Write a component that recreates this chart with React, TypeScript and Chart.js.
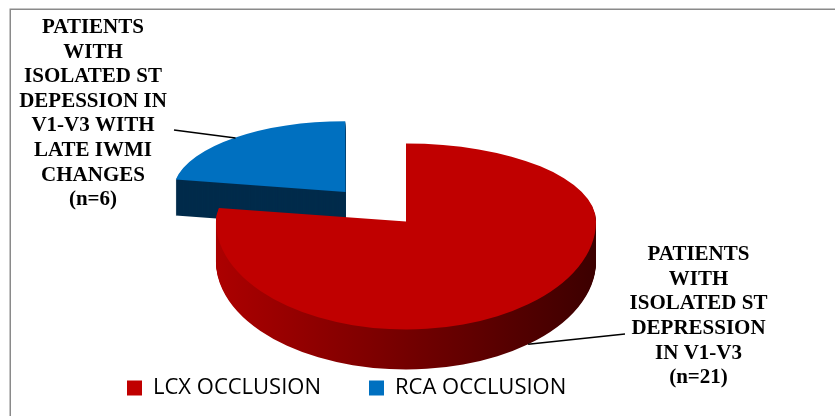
import { useEffect, useRef } from "react";
import { Chart, registerables } from "chart.js";

Chart.register(...registerables);

// ---------- data ----------
const categories = ["LCX OCCLUSION", "RCA OCCLUSION"];
const patientCounts = [21, 6];
const calloutTexts = [
  ["PATIENTS", "WITH", "ISOLATED ST", "DEPRESSION", "IN V1-V3", "(n=21)"],
  ["PATIENTS", "WITH", "ISOLATED ST", "DEPESSION IN", "V1-V3 WITH", "LATE IWMI", "CHANGES", "(n=6)"],
];

// ---------- styles / layout ----------
const TOP_COLORS = ["#C00000", "#0070C0"];
const BLUE_SIDE = "#012B4B";
const EXPLODE = [0, 107];
const PIE_RX = 190; // screen half-width of the pie top
const RY_BACK = 78; // screen half-height of the far half (perspective)
const RY_FRONT = 108; // screen half-height of the near half
const PERSP = 0.13; // exploded slices shrink as they move to the back
const DEPTH = 40; // extrusion thickness (px)
const LABEL_FONT = 'bold 21px "Liberation Serif", "Times New Roman", serif';
const LABEL_LINE_H = 24.6;
const CALLOUT_LAYOUT = [
  { cx: 698.5, top: 254.7, attachX: 625, attachY: 334, onSide: true },
  { cx: 93, top: 27.5, attachX: 174, attachY: 130, onSide: false },
];

function pieGeom(chart: any) {
  const arcs = chart.getDatasetMeta(0).data as any[];
  const a0 = arcs[0];
  const cx = a0.x;
  const cy = a0.y;
  const r = a0.outerRadius;
  const sx = PIE_RX / r;
  const syBack = RY_BACK / r;
  const syFront = RY_FRONT / r;
  return { arcs, cx, cy, r, sx, syBack, syFront };
}

// apex (chart space) and perspective factor of an arc
function arcApex(arc: any, cx: number, cy: number) {
  const mid = (arc.startAngle + arc.endAngle) / 2;
  const off = (arc.options.offset || 0) / 4;
  const f = off > 0 ? 1 + PERSP * Math.sin(mid) : 1;
  return { mid, ax: cx + Math.cos(mid) * off, ay: cy + Math.sin(mid) * off, f };
}

const framePlugin = {
  id: "frame",
  beforeDraw(chart: any) {
    const ctx = chart.ctx as CanvasRenderingContext2D;
    ctx.save();
    ctx.strokeStyle = "#8A8A8A";
    ctx.lineWidth = 1.5;
    ctx.beginPath();
    ctx.moveTo(10.25, chart.height);
    ctx.lineTo(10.25, 9.25);
    ctx.lineTo(chart.width, 9.25);
    ctx.stroke();
    ctx.restore();
  },
};

function drawLayer(chart: any, k: number, fills: any[] | null) {
  const ctx = chart.ctx as CanvasRenderingContext2D;
  const { arcs, cx, cy, sx, syBack, syFront } = pieGeom(chart);
  const split = Math.round(cy + k);
  const halves = [
    { y0: -1000, y1: split, sy: syBack },
    { y0: split, y1: chart.height + 1000, sy: syFront },
  ];
  halves.forEach((h) => {
    ctx.save();
    ctx.beginPath();
    ctx.rect(0, h.y0, chart.width, h.y1 - h.y0);
    ctx.clip();
    ctx.translate(cx, cy + k);
    ctx.scale(sx, h.sy);
    ctx.translate(-cx, -cy);
    arcs.forEach((arc: any, i: number) => {
      const { ax, ay, f } = arcApex(arc, cx, cy);
      if (k > Math.round(DEPTH * f)) return;
      ctx.save();
      ctx.translate(ax, ay);
      ctx.scale(f, f);
      ctx.translate(-ax, -ay);
      if (fills) {
        const ghost = Object.create(arc);
        ghost.options = Object.assign({}, arc.options, {
          backgroundColor: fills[i],
          borderWidth: 0,
        });
        ghost.draw(ctx);
      } else {
        arc.draw(ctx);
      }
      ctx.restore();
    });
    ctx.restore();
  });
}

const pie3dPlugin = {
  id: "pie3d",
  beforeDatasetsDraw(chart: any) {
    const ctx = chart.ctx as CanvasRenderingContext2D;
    const { cx, r } = pieGeom(chart);
    const grad = ctx.createLinearGradient(cx - r, 0, cx + r, 0);
    grad.addColorStop(0, "#AC0000");
    grad.addColorStop(0.5, "#740000");
    grad.addColorStop(1, "#3C0000");
    const sideFills: any[] = [grad, BLUE_SIDE];
    for (let k = DEPTH; k >= 1; k--) drawLayer(chart, k, sideFills);
    drawLayer(chart, 0, null);
    return false;
  },
};

const calloutPlugin = {
  id: "callouts",
  afterDraw(chart: any) {
    const ctx = chart.ctx as CanvasRenderingContext2D;
    const { arcs, cx, cy, r, sx, syBack, syFront } = pieGeom(chart);
    ctx.save();
    arcs.forEach((arc: any, i: number) => {
      const lay = CALLOUT_LAYOUT[i];
      const { mid, ax, ay, f } = arcApex(arc, cx, cy);
      const cpx = ax + Math.cos(mid) * r * f;
      const cpy = ay + Math.sin(mid) * r * f;
      const sy = cpy > cy ? syFront : syBack;
      const px = cx + (cpx - cx) * sx;
      const py = cy + (cpy - cy) * sy + (lay.onSide ? DEPTH : 0);
      ctx.strokeStyle = "#000";
      ctx.lineWidth = 1.5;
      ctx.beginPath();
      ctx.moveTo(px, py);
      ctx.lineTo(lay.attachX, lay.attachY);
      ctx.stroke();
      ctx.fillStyle = "#000";
      ctx.font = LABEL_FONT;
      ctx.textAlign = "center";
      ctx.textBaseline = "middle";
      calloutTexts[i].forEach((line, j) => {
        ctx.fillText(line, lay.cx, lay.top + j * LABEL_LINE_H);
      });
    });
    ctx.restore();
  },
};

export default function App() {
  const ref = useRef<HTMLCanvasElement>(null);
  useEffect(() => {
    const chart = new Chart(ref.current as HTMLCanvasElement, {
      type: "pie",
      data: {
        labels: categories,
        datasets: [
          {
            data: patientCounts,
            backgroundColor: TOP_COLORS,
            borderWidth: 0,
            offset: EXPLODE,
          } as any,
        ],
      },
      options: {
        responsive: false,
        animation: false,
        events: [],
        layout: { padding: { left: 79, right: 102, top: 114, bottom: 7 } },
        plugins: {
          legend: {
            position: "bottom",
            align: "start",
            labels: {
              boxWidth: 15,
              boxHeight: 15,
              padding: 48,
              color: "#000",
              font: { family: '"Open Sans", sans-serif', size: 22 },
            },
          },
          tooltip: { enabled: false },
        },
      } as any,
      plugins: [framePlugin, pie3dPlugin, calloutPlugin],
    });
    return () => chart.destroy();
  }, []);
  return (
    <div style={{ position: "fixed", left: 0, top: 0, width: 835, height: 416, background: "#fff" }}>
      <canvas ref={ref} width={835} height={416} style={{ display: "block", width: 835, height: 416 }} />
    </div>
  );
}
